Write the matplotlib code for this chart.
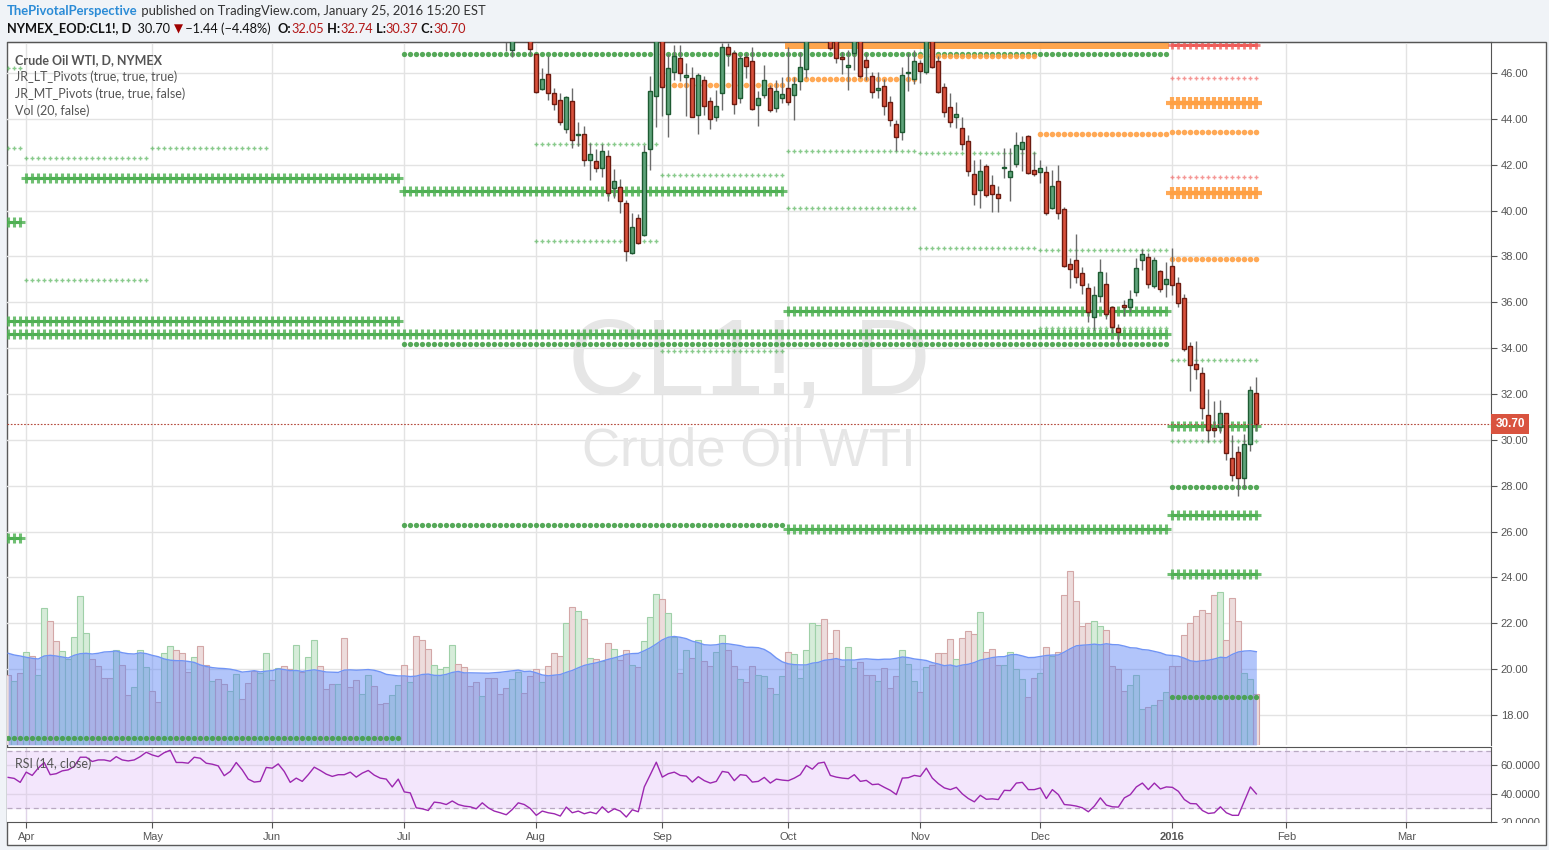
import numpy as np
import pandas as pd
import matplotlib
matplotlib.use('Agg')
import matplotlib.pyplot as plt
import matplotlib.transforms as mtransforms
from matplotlib.patches import Rectangle

plt.rcParams['font.family'] = ['Lato', 'DejaVu Sans']

W, H = 1549, 850

# NYMEX trading days, exchange holidays removed
holidays = ['2015-04-03', '2015-05-25', '2015-07-03', '2015-09-07', '2015-11-26',
            '2015-12-25', '2016-01-01', '2016-01-18', '2016-02-15']
days = pd.bdate_range('2015-03-27', '2016-03-31', freq='C', holidays=holidays)
n_bars = 209          # Mar 27 2015 .. Jan 25 2016

# daily candles, only the part that is inside the price window (from late July)
first_candle = 83
opens = [48.0, 46.99, 47.8, 48.2, 47.8, 46.81, 45.32, 45.95, 45.12, 44.82,
         43.56, 44.77, 43.28, 43.34, 42.21, 42.17, 41.85, 42.38, 40.97, 41.03,
         40.31, 38.16, 39.69, 38.93, 42.69, 44.98, 49.2, 44.23, 46.06, 46.64,
         45.81, 45.77, 44.15, 45.69, 44.77, 44.06, 45.12, 47.12, 46.87, 44.93,
         46.69, 46.51, 44.60, 45.02, 45.34, 44.47, 44.89, 45.34, 45.02, 45.63,
         46.16, 48.0, 48.8, 49.6, 48.6, 47.6, 46.69, 46.25, 46.86, 47.6,
         46.57, 45.87, 45.24, 45.44, 44.74, 43.79, 43.41, 46.00, 45.73, 46.43,
         46.06, 47.9, 46.54, 45.38, 44.51, 44.06, 43.60, 43.02, 41.60, 40.90,
         41.96, 41.12, 40.73, 41.85, 41.45, 42.02, 42.67, 43.25, 41.75, 41.70,
         41.67, 40.13, 41.28, 40.05, 37.67, 37.83, 37.26, 36.61, 35.37, 36.29,
         36.78, 35.78, 34.86, 35.87, 35.78, 36.43, 37.83, 37.96, 36.70, 37.35,
         36.78, 37.57, 36.86, 36.17, 34.08, 33.30, 32.90, 31.07, 30.50, 30.58,
         31.16, 29.19, 29.46, 28.32, 29.81, 32.05]
highs = [48.3, 48.0, 48.5, 48.6, 48.1, 46.86, 46.21, 46.72, 45.34, 45.12,
         45.00, 45.34, 43.87, 43.70, 42.95, 42.69, 42.92, 42.66, 41.83, 41.38,
         40.48, 39.90, 39.87, 42.87, 45.87, 49.0, 49.3, 46.83, 47.22, 47.22,
         46.43, 46.28, 46.02, 45.87, 44.95, 45.27, 47.30, 47.30, 47.00, 46.79,
         46.86, 47.15, 45.20, 46.35, 45.48, 45.70, 45.84, 47.12, 45.84, 46.93,
         48.5, 49.2, 50.0, 50.2, 48.9, 47.9, 46.93, 47.00, 47.8, 47.9,
         46.86, 46.06, 46.06, 45.73, 45.00, 43.96, 46.25, 46.86, 47.00, 46.57,
         48.4, 48.2, 46.72, 45.58, 45.12, 44.72, 44.08, 43.31, 42.22, 42.27,
         42.05, 41.57, 41.06, 42.71, 42.71, 43.44, 43.25, 43.30, 42.57, 42.20,
         41.94, 41.77, 41.99, 40.14, 37.92, 38.98, 37.55, 36.83, 36.71, 37.89,
         37.32, 35.84, 35.05, 36.10, 36.54, 37.92, 38.31, 38.13, 37.99, 37.41,
         37.74, 38.37, 37.09, 36.35, 34.27, 34.31, 33.16, 32.20, 31.70, 31.74,
         31.16, 30.21, 29.73, 30.26, 32.35, 32.74]
lows = [46.95, 46.69, 47.4, 47.5, 46.72, 45.12, 45.27, 44.83, 44.40, 43.72,
        43.38, 42.72, 42.80, 41.93, 41.35, 41.67, 41.45, 40.40, 40.54, 39.90,
        37.80, 38.10, 38.53, 38.89, 41.79, 43.63, 44.13, 43.22, 45.70, 45.63,
        44.14, 44.08, 43.35, 44.16, 43.57, 43.92, 44.40, 46.31, 44.22, 44.69,
        45.77, 44.40, 43.70, 44.90, 44.32, 44.32, 44.69, 44.60, 43.96, 45.27,
        45.77, 47.6, 48.0, 48.6, 47.00, 46.45, 45.95, 45.24, 46.13, 45.80,
        45.70, 44.90, 44.90, 44.18, 43.67, 42.58, 43.06, 45.20, 45.52, 45.58,
        45.96, 46.20, 45.12, 44.10, 43.64, 43.60, 42.63, 41.53, 40.24, 40.11,
        40.58, 39.95, 39.93, 41.41, 40.43, 41.88, 41.74, 41.60, 41.52, 41.19,
        39.81, 40.05, 39.62, 37.52, 36.64, 36.86, 36.36, 35.16, 34.79, 36.03,
        35.27, 34.65, 34.28, 35.40, 35.59, 36.29, 37.39, 36.61, 36.64, 36.46,
        36.25, 36.32, 35.78, 33.89, 32.12, 32.64, 30.90, 29.92, 30.11, 30.28,
        29.12, 28.22, 27.57, 27.89, 29.53, 30.37]
closes = [47.6, 47.6, 48.2, 48.0, 47.06, 45.16, 45.73, 45.12, 44.64, 43.86,
          44.95, 43.08, 43.33, 42.21, 42.47, 41.85, 42.60, 40.76, 41.29, 40.41,
          38.25, 39.29, 38.58, 42.56, 45.22, 48.5, 45.37, 46.21, 46.74, 46.02,
          45.92, 44.10, 45.90, 44.58, 43.98, 44.55, 47.12, 46.83, 44.63, 46.64,
          46.32, 44.45, 44.90, 45.70, 44.40, 45.22, 45.09, 44.73, 45.53, 46.25,
          48.0, 48.8, 49.6, 49.0, 47.08, 46.64, 46.60, 46.35, 47.5, 45.87,
          46.25, 45.15, 45.34, 44.58, 43.93, 43.21, 45.92, 46.03, 46.54, 46.10,
          47.9, 46.28, 45.16, 44.29, 43.86, 44.20, 42.90, 41.73, 40.73, 41.74,
          40.69, 40.74, 40.55, 41.89, 41.71, 42.86, 43.00, 41.65, 41.61, 41.84,
          39.91, 41.07, 39.91, 37.60, 37.47, 37.12, 36.74, 35.59, 36.30, 37.31,
          35.48, 34.91, 34.69, 35.78, 36.13, 37.48, 38.09, 36.78, 37.83, 36.57,
          37.00, 36.74, 35.95, 33.95, 33.25, 33.11, 31.38, 30.42, 30.45, 31.16,
          29.41, 28.45, 28.32, 29.81, 32.16, 30.70]
last_price = 30.70

# volume (relative units) for every bar, and the bar colour before the candles start
volume = [70, 64, 72, 93, 89, 70, 137, 124, 104, 94,
          86, 108, 149, 112, 86, 79, 67, 67, 95, 80,
          50, 58, 95, 78, 54, 43, 92, 99, 95, 92,
          73, 88, 99, 80, 64, 66, 61, 54, 71, 46,
          62, 74, 72, 92, 65, 77, 79, 76, 100, 73,
          88, 105, 79, 56, 61, 61, 107, 58, 65, 51,
          70, 59, 41, 42, 50, 60, 80, 63, 109, 105,
          96, 80, 76, 78, 100, 81, 78, 59, 63, 49,
          67, 67, 51, 57, 66, 73, 52, 69, 76, 63,
          79, 92, 89, 122, 138, 134, 126, 87, 86, 84,
          102, 96, 85, 95, 80, 78, 104, 128, 151, 146,
          132, 108, 72, 95, 87, 105, 84, 79, 93, 110,
          95, 79, 66, 63, 79, 70, 69, 57, 51, 69,
          93, 91, 67, 95, 122, 120, 126, 92, 115, 79,
          98, 77, 83, 70, 70, 64, 77, 57, 69, 95,
          81, 64, 53, 78, 80, 92, 92, 106, 86, 107,
          114, 111, 133, 93, 96, 80, 80, 93, 76, 66,
          48, 67, 72, 98, 89, 93, 150, 174, 144, 119,
          122, 124, 119, 115, 79, 76, 54, 60, 70, 36,
          38, 40, 45, 53, 79, 79, 110, 122, 129, 135,
          132, 150, 153, 105, 147, 124, 72, 66, 51]
vol_dir_early = ('RGRGRGGRRG' 'GGGGRRRRGR' 'RGGGRRGGRR' 'RGRRGRRGGR' 'RRGGRGRRGR'
                 'GGRRRGRRRG' 'GRRRGGRGRR' 'RGGGGRRRRG' 'RRR')
vol_ma_head = [91.7, 90, 89, 87.7, 86.7, 86, 89, 89.7, 89, 88,
               87, 89.7, 91.3, 91.7, 91, 91.7, 93, 93.3, 94]

# RSI(14)
rsi = [51.4, 50.7, 47.9, 55.1, 52.8, 57.9, 61.9, 53.3, 54.0, 56.0,
       56.7, 59.1, 65.6, 65.6, 62.6, 63.7, 63.7, 62.8, 66.0, 63.7,
       63.0, 63.7, 66.0, 69.1, 67.2, 66.0, 68.8, 70.5, 61.9, 61.9,
       61.4, 65.6, 64.9, 61.4, 60.7, 59.5, 52.6, 55.6, 61.9, 56.7,
       50.2, 48.1, 48.6, 58.4, 57.9, 60.9, 55.6, 47.9, 50.9, 48.6,
       53.3, 58.6, 56.3, 53.7, 52.1, 53.3, 53.3, 55.1, 51.6, 54.4,
       56.3, 53.0, 50.9, 50.2, 44.7, 50.2, 41.2, 40.5, 30.0, 29.3,
       28.1, 34.0, 33.5, 32.3, 34.8, 32.3, 31.2, 30.7, 29.3, 33.5,
       30.0, 27.7,
       26.5, 25.1, 28.8, 33.5, 32.3, 29.5, 24.7, 27.7, 26.5, 25.8,
       24.2, 30.5, 26.5, 27.7, 25.8, 27.0, 25.8, 30.7, 26.7, 29.3,
       27.7, 23.5, 28.6, 27.2, 44.7, 53.3, 62.1, 51.6, 54.0, 55.1,
       52.8, 52.3, 48.1, 51.9, 49.1, 47.4, 48.6, 55.6, 54.9, 49.1,
       53.3, 52.8, 48.1, 48.6, 51.4, 47.4, 50.2, 49.5, 49.1, 50.9,
       53.3, 59.8, 57.2, 61.4, 62.1, 52.8, 51.6, 50.9, 50.5, 53.3,
       48.6, 49.3, 46.3, 46.7, 44.4, 42.3, 39.3, 50.9, 51.2, 52.8,
       52.1, 57.9, 50.9, 47.0, 44.0, 42.8, 44.4, 39.8, 36.5, 34.2,
       38.8, 36.0, 36.3, 35.8, 42.3, 42.1, 47.4, 47.9, 42.8, 42.8,
       44.0, 36.5, 42.8, 39.3, 32.3, 31.9, 31.2, 30.0, 27.2, 31.2,
       37.0, 31.9, 30.7, 30.5, 37.0, 39.3, 44.7, 47.4, 42.8, 47.4,
       43.3, 44.7, 44.4, 41.6, 35.8, 33.0, 32.8, 28.1, 26.0, 26.5,
       30.7, 26.5, 24.7, 24.7, 34.7, 44.7, 39.8]

# pivot levels: period, price, drawing style
piv_from = ['2015-03-27'] * 4 + ['2015-04-01', '2015-03-27', '2015-03-27', '2015-03-27',
            '2015-04-01', '2015-04-01', '2015-05-01',
            '2015-07-01', '2015-07-01', '2015-07-01', '2015-07-01',
            '2015-08-01', '2015-08-01', '2015-09-01', '2015-09-01', '2015-09-01',
            '2015-10-01', '2015-10-01', '2015-10-01', '2015-10-01', '2015-10-01', '2015-10-01',
            '2015-11-01', '2015-11-01', '2015-11-01', '2015-12-01', '2015-12-01', '2015-12-01'] \
           + ['2016-01-01'] * 14
piv_to = ['2015-03-31'] * 4 + ['2015-06-30', '2015-06-30', '2015-12-31', '2015-06-30',
          '2015-04-30', '2015-04-30', '2015-05-29',
          '2015-12-31', '2015-09-30', '2015-12-31', '2015-09-30',
          '2015-08-31', '2015-08-31', '2015-09-30', '2015-09-30', '2015-09-30',
          '2015-12-31', '2015-12-31', '2015-12-31', '2015-10-30', '2015-10-30', '2015-10-30',
          '2015-11-30', '2015-11-30', '2015-11-30', '2015-12-31', '2015-12-31', '2015-12-31'] \
         + ['2016-01-25'] * 14
piv_level = [46.2, 42.73, 39.5, 25.72, 41.42, 35.18, 34.62, 17.0,
             42.29, 36.97, 42.73,
             46.83, 40.85, 34.18, 26.3,
             42.89, 38.66, 41.54, 33.87, 45.48,
             47.19, 35.62, 26.1, 45.72, 42.58, 40.1,
             46.74, 42.5, 38.35, 43.33, 38.27, 34.87,
             47.22, 45.8, 44.69, 43.44, 41.45, 40.75, 37.88, 33.5, 30.6, 29.94, 27.93,
             26.72, 24.14, 18.78]
piv_style = ['C', 'C', 'A', 'A', 'A', 'A', 'A', 'B',
             'C', 'C', 'C',
             'B', 'A', 'B', 'B',
             'C', 'C', 'C', 'C', 'D',
             'S', 'A', 'A', 'D', 'C', 'C',
             'D', 'C', 'C', 'D', 'C', 'C',
             'R', 'F', 'E', 'D', 'F', 'E', 'D', 'C', 'A', 'C', 'B', 'A', 'A', 'B']

styles = {
    'A': dict(color='#4caf50', marker='+', ms=7, mew=2.2, ls='-', lw=2.2, alpha=0.8),
    'B': dict(color='#43a047', marker='o', ms=3.8, mew=0, ls='none', alpha=0.9),
    'C': dict(color='#4caf50', marker='+', ms=3.5, mew=1.0, ls='none', alpha=0.65),
    'D': dict(color='#ffa043', marker='o', ms=4, mew=0, ls='none', alpha=0.9),
    'S': dict(color='#ffa043', marker='s', ms=3.8, mew=0, ls='none', alpha=0.95),
    'E': dict(color='#ffa043', marker='+', ms=8, mew=3, ls='-', lw=3, alpha=0.9),
    'R': dict(color='#ef5350', marker='+', ms=6, mew=2, ls='-', lw=2, alpha=0.75),
    'F': dict(color='#ef5350', marker='+', ms=3, mew=1, ls='none', alpha=0.6),
}

up_face, up_edge = '#5fa47b', '#1e5a32'
dn_face, dn_edge = '#d9513c', '#6b1b10'
grid_col = '#e3e3e3'
txt_col = '#555555'


def frac(x0, y0, x1, y1):
    return [x0 / W, 1 - y1 / H, (x1 - x0) / W, (y1 - y0) / H]


fig = plt.figure(figsize=(W / 100, H / 100), dpi=100, facecolor='#f0f3f7')
fig.add_artist(Rectangle((7 / W, 1 - 845 / H), 1539 / W, 803 / H, transform=fig.transFigure,
                         facecolor='white', edgecolor='#5a5a5a', lw=1, zorder=-1))

ax_vol = fig.add_axes(frac(7, 42, 1491, 745))
ax = fig.add_axes(frac(7, 42, 1491, 745), sharex=ax_vol)
ax_rsi = fig.add_axes(frac(7, 747, 1491, 822), sharex=ax_vol)

x_all = np.arange(n_bars)
xc = np.arange(first_candle, n_bars)
o, h, l, c = map(np.array, (opens, highs, lows, closes))
up = c >= o

# month ticks
month_idx = [i for i in range(1, len(days)) if days[i].month != days[i - 1].month]
month_lab = [days[i].strftime('%Y') if days[i].month == 1 else days[i].strftime('%b')
             for i in month_idx]

ax.set_ylim(16.694, 47.352)
ax.set_xlim(-0.2, 247.1)
ticks = np.arange(18, 47, 2)

# grid, drawn in the volume axes so it stays behind the volume bars
ygrid = ax.get_yaxis_transform()
for t in ticks:
    ax_vol.plot([0, 1], [t, t], transform=ygrid, color=grid_col, lw=1, zorder=0)
for m in month_idx:
    ax_vol.axvline(m, color=grid_col, lw=1, zorder=0)
    ax_rsi.axvline(m, color='#e0d4e8', lw=1, zorder=1)

# ---- volume
vol = np.array(volume, dtype=float)
vol_up = [d == 'G' for d in vol_dir_early] + list(up)
ax_vol.bar(x_all, vol, width=1.0,
           color=['#d6ecd9' if u else '#eddcdc' for u in vol_up],
           edgecolor=['#9fd0a8' if u else '#d3a7a7' for u in vol_up], linewidth=0.8, zorder=1)
ma = pd.Series(vol).rolling(20).mean().to_numpy()
ma[:len(vol_ma_head)] = vol_ma_head
ax_vol.fill_between(x_all, 0, ma, color='#5680f5', alpha=0.45, lw=0, zorder=3)
ax_vol.plot(x_all, ma, color='#7094f5', lw=1, zorder=3)
ax_vol.set_ylim(0, 703)
ax_vol.axis('off')

# watermark
ax_vol.text(749 / W, 1 - 366 / H, 'CL1!, D', transform=fig.transFigure, ha='center', va='center',
            fontsize=77, color='#e6e6e6', family='Liberation Sans', zorder=0)
ax_vol.text(749 / W, 1 - 451 / H, 'Crude Oil WTI', transform=fig.transFigure, ha='center',
            va='center', fontsize=38, color='#e6e6e6', family='Liberation Sans', zorder=0)

# ---- price panel
ax.set_facecolor('none')

for s, e, lev, st in zip(piv_from, piv_to, piv_level, piv_style):
    i0 = days.searchsorted(pd.Timestamp(s))
    i1 = days.searchsorted(pd.Timestamp(e), side='right') - 1
    xs = np.arange(i0, i1 + 1)
    ax.plot(xs, np.full(len(xs), lev), zorder=1, **styles[st])

ax.vlines(xc, l, h, color='#6b6b6b', lw=1, zorder=2)
body_h = np.maximum(np.abs(c - o), 0.06)
ax.bar(xc, body_h, bottom=np.minimum(o, c), width=0.66,
       color=np.where(up, up_face, dn_face), edgecolor=np.where(up, up_edge, dn_edge),
       linewidth=1, zorder=3)

ax.axhline(last_price, color='#b5483a', lw=0.8, ls=(0, (1.5, 1.5)), zorder=4)
trans = mtransforms.blended_transform_factory(ax.transAxes, ax.transData)
ax.text(1.003, last_price, '%.2f' % last_price, transform=trans, ha='left', va='center',
        fontsize=8.5, color='white', family='Liberation Sans', fontweight='bold', clip_on=False,
        bbox=dict(boxstyle='square,pad=0.35', fc='#d9533f', ec='none'), zorder=6)

ax.yaxis.tick_right()
ax.set_yticks(ticks)
ax.set_yticklabels(['%.2f' % t for t in ticks], family='Liberation Sans')
ax.tick_params(axis='y', direction='out', length=4, color='#555', labelsize=8,
               labelcolor=txt_col, pad=3)
ax.tick_params(axis='x', length=0, labelbottom=False)
for side in ['left', 'bottom']:
    ax.spines[side].set_visible(False)
ax.spines['right'].set_color('#555')
ax.spines['top'].set_color('#555')

ax.text(8 / 1484, 1 - 18 / 703, 'Crude Oil WTI, D, NYMEX', transform=ax.transAxes,
        fontsize=9, fontweight='bold', color=txt_col, va='center', zorder=7)
for k, s in enumerate(['JR_LT_Pivots (true, true, true)', 'JR_MT_Pivots (true, true, false)',
                       'Vol (20, false)']):
    ax.text(8 / 1484, 1 - (35 + 17 * k) / 703, s, transform=ax.transAxes,
            fontsize=9, color=txt_col, va='center', zorder=7)

# ---- RSI panel
ax_rsi.axhspan(30, 70, color='#f3e6fc', zorder=0)
ax_rsi.axhline(70, color='#b9a9c2', lw=0.9, ls=(0, (4, 3)), zorder=1)
ax_rsi.axhline(30, color='#b9a9c2', lw=0.9, ls=(0, (4, 3)), zorder=1)
ax_rsi.axhline(60, color='#e0d4e8', lw=1, zorder=1)
ax_rsi.axhline(40, color='#e0d4e8', lw=1, zorder=1)
ax_rsi.plot(x_all, rsi, color='#9c27b0', lw=1, zorder=3)
ax_rsi.set_ylim(20.4, 72.8)
ax_rsi.yaxis.tick_right()
ax_rsi.set_yticks([20, 40, 60])
ax_rsi.set_yticklabels(['20.0000', '40.0000', '60.0000'], family='Liberation Sans')
ax_rsi.tick_params(axis='y', direction='out', length=4, color='#555', labelsize=8,
                   labelcolor=txt_col, pad=3)
ax_rsi.set_xticks(month_idx)
ax_rsi.set_xticklabels(month_lab, family='Liberation Sans')
ax_rsi.tick_params(axis='x', direction='out', length=4, color='#555', labelsize=8,
                   labelcolor=txt_col, pad=3)
for t in ax_rsi.get_xticklabels():
    if t.get_text() == '2016':
        t.set_fontweight('bold')
for side in ['left', 'right', 'top', 'bottom']:
    ax_rsi.spines[side].set_color('#555')
ax_rsi.spines['left'].set_visible(False)
ax_rsi.text(8 / 1484, 0.78, 'RSI (14, close)', transform=ax_rsi.transAxes, fontsize=9,
            color=txt_col, va='center', zorder=5)

# hide the lower half of the cut-off 20.0000 label
fig.add_artist(Rectangle((1492 / W, 1 - 844 / H), 53 / W, 21 / H, transform=fig.transFigure,
                         facecolor='white', edgecolor='none', zorder=5))

# ---- header lines
renderer = fig.canvas.get_renderer()


def chain(x, y, pieces):
    for s, kw in pieces:
        t = fig.text(x / W, 1 - y / H, s, va='center', ha='left', **kw)
        x += t.get_window_extent(renderer=renderer).width


chain(7, 11, [('ThePivotalPerspective', dict(fontsize=9.4, fontweight='bold', color='#2a8bd6')),
              (' published on TradingView.com, January 25, 2016 15:20 EST',
               dict(fontsize=9.4, color='#333333'))])
red = '#b21818'
fs = 9.2
chain(7, 29, [('NYMEX_EOD:CL1!, D', dict(fontsize=fs, fontweight='bold', color='#111')),
              ('  30.70 ', dict(fontsize=fs, color='#111')),
              ('\u25bc', dict(fontsize=8.5, color='#a00000', family='DejaVu Sans')),
              (' \u22121.44 (\u22124.48%)  ', dict(fontsize=fs, color='#111')),
              ('O:', dict(fontsize=fs, fontweight='bold', color='#111')),
              ('32.05', dict(fontsize=fs, color=red)),
              (' H:', dict(fontsize=fs, fontweight='bold', color='#111')),
              ('32.74', dict(fontsize=fs, color=red)),
              (' L:', dict(fontsize=fs, fontweight='bold', color='#111')),
              ('30.37', dict(fontsize=fs, color=red)),
              (' C:', dict(fontsize=fs, fontweight='bold', color='#111')),
              ('30.70', dict(fontsize=fs, color=red))])

fig.savefig('out.png', dpi=100, facecolor=fig.get_facecolor())
